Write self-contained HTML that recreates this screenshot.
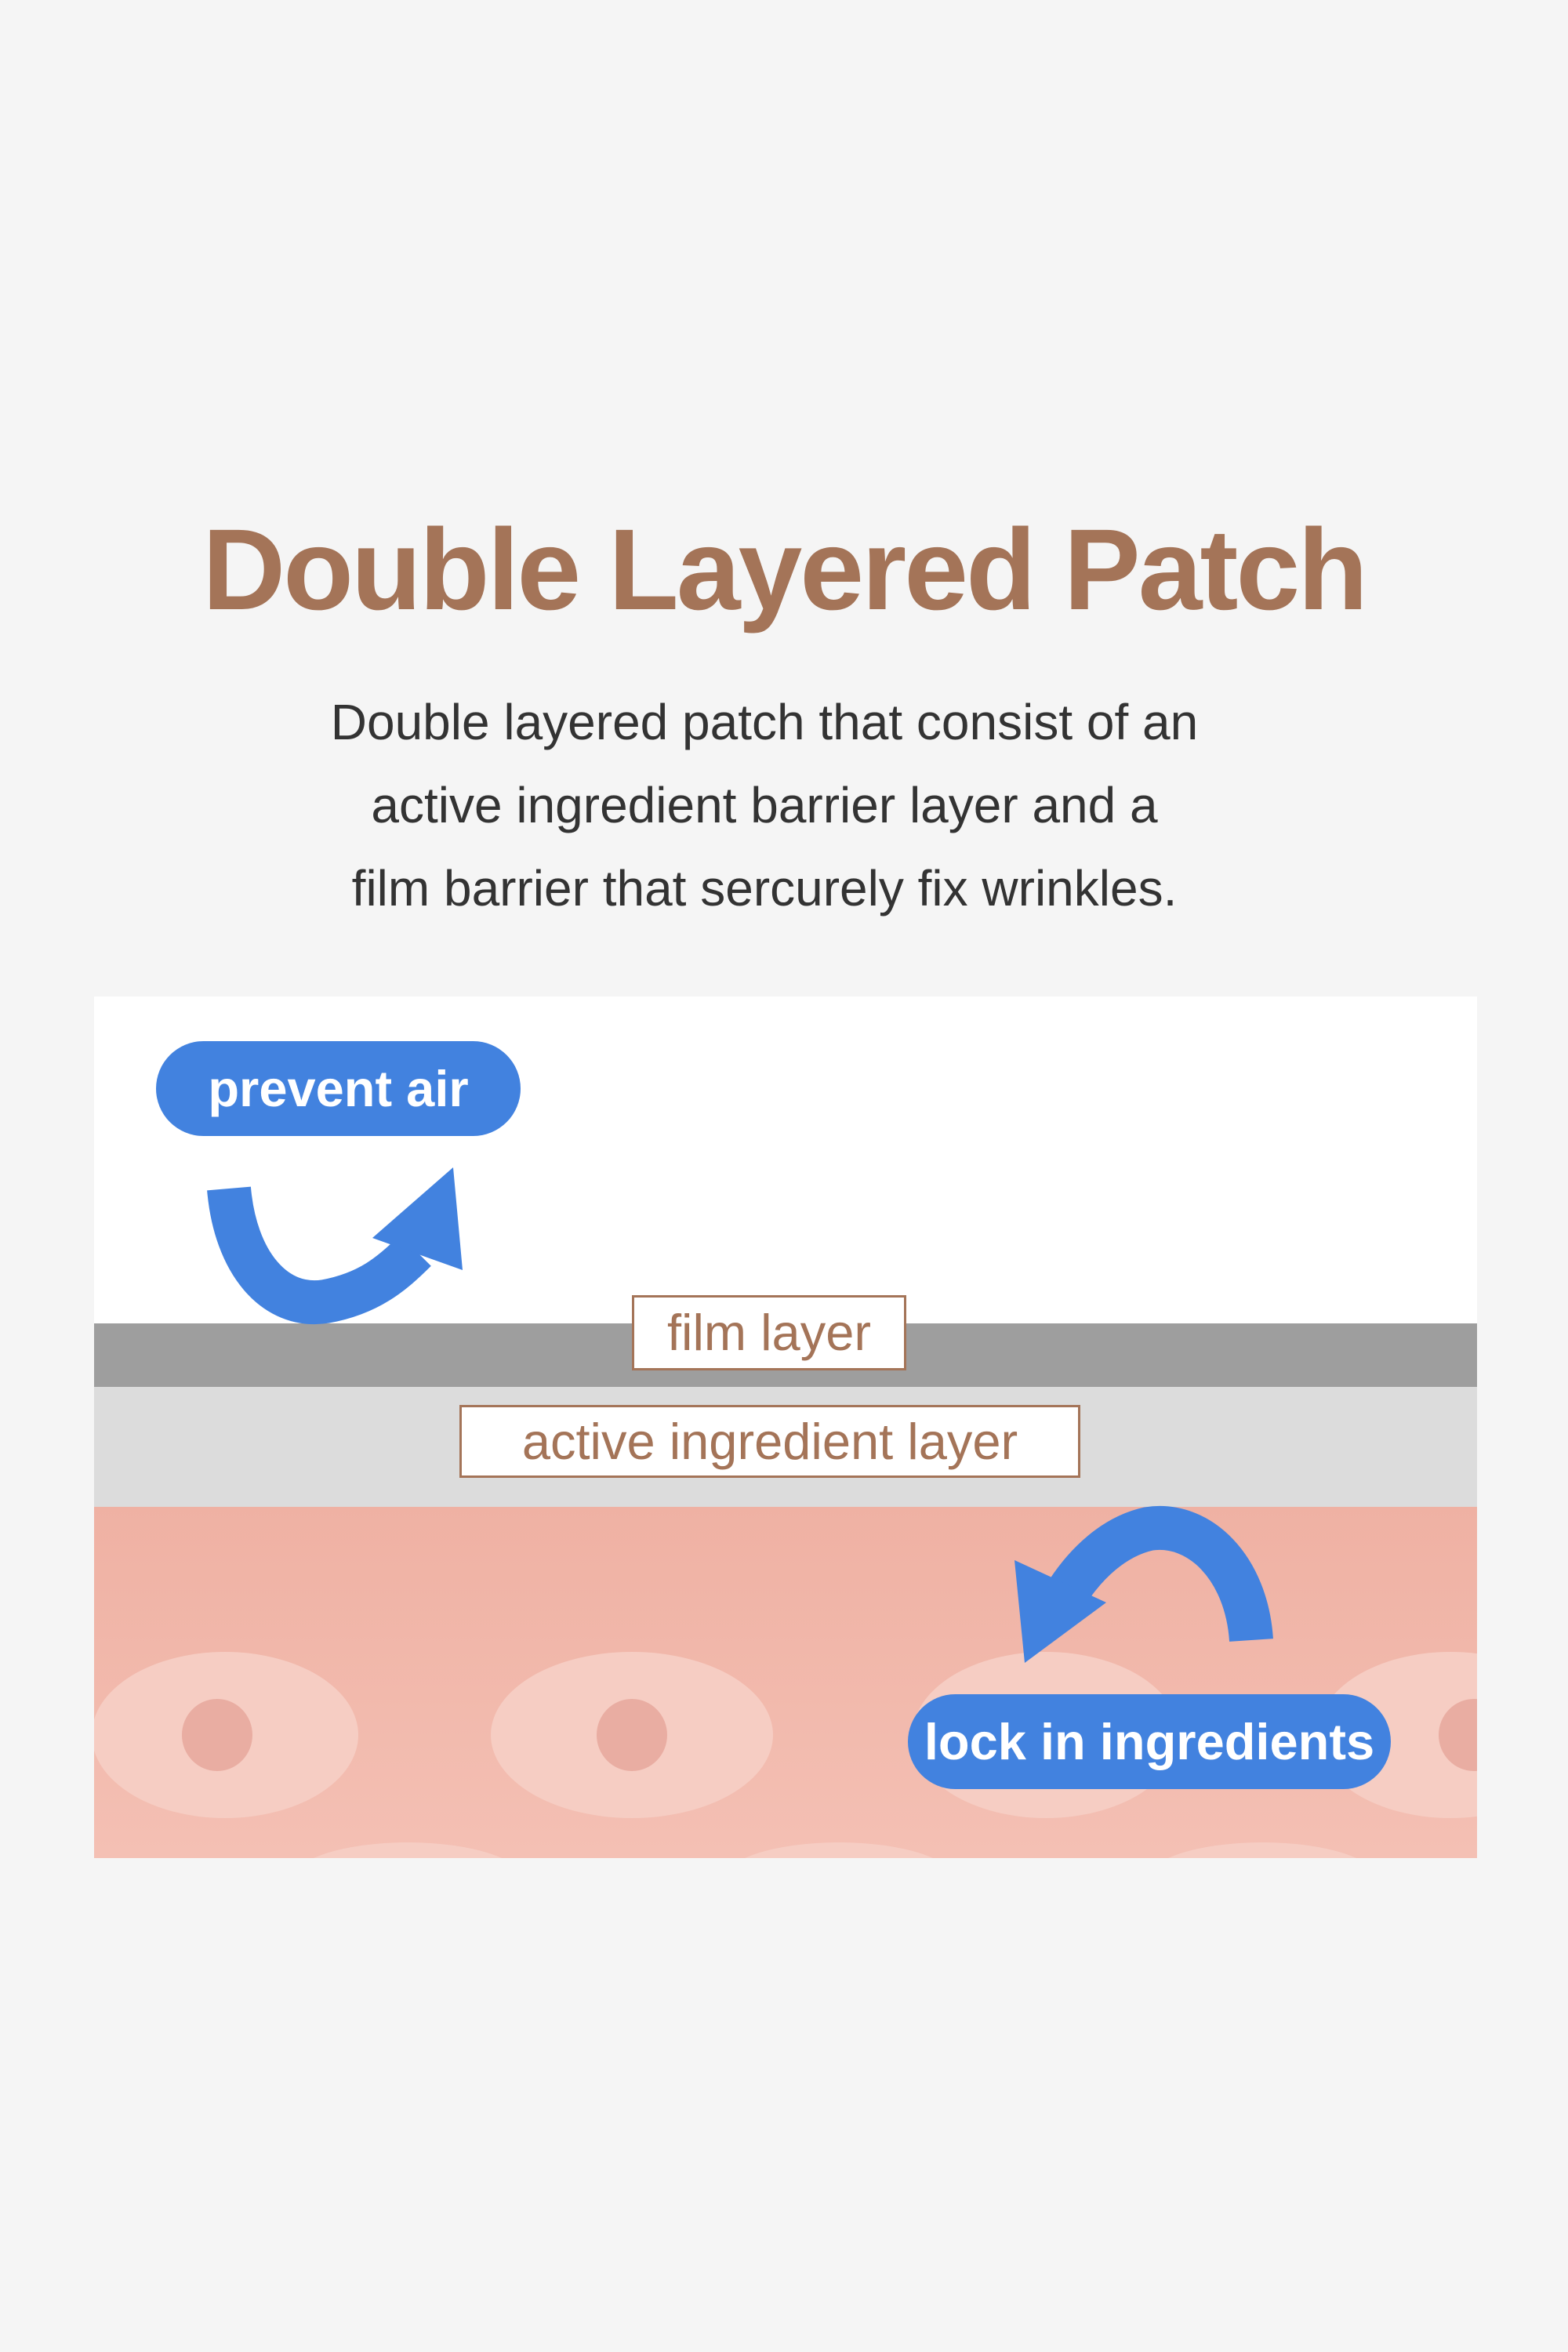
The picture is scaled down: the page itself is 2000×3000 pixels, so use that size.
<!DOCTYPE html>
<html><head><meta charset="utf-8"><style>
html,body{margin:0;padding:0}
body{width:2000px;height:3000px;background:#f5f5f5;position:relative;overflow:hidden;font-family:"Liberation Sans",sans-serif}
.abs{position:absolute}
h1{position:absolute;left:0;width:2000px;top:637px;margin:0;text-align:center;font-size:147px;font-weight:bold;color:#a47458;letter-spacing:-3px;line-height:180px}
.sub{position:absolute;left:-25px;width:2000px;text-align:center;font-size:64px;color:#333;line-height:106px;top:868px}
.pill{position:absolute;background:#4282df;color:#fff;font-weight:bold;border-radius:62px;text-align:center;font-size:65px}
.box{position:absolute;background:#fff;border:3px solid #a47458;box-sizing:border-box;color:#a47458;text-align:center;font-size:65px}
</style></head><body>
<h1>Double Layered Patch</h1>
<div class="sub">Double layered patch that consist of an<br>active ingredient barrier layer and a<br>film barrier that sercurely fix wrinkles.</div>
<svg class="abs" style="left:0;top:0" width="2000" height="3000">
<defs><linearGradient id="sk" x1="0" y1="0" x2="0" y2="1"><stop offset="0" stop-color="#efb1a3"/><stop offset="1" stop-color="#f4c0b4"/></linearGradient>
<clipPath id="cp"><rect x="120" y="1922" width="1764" height="448"/></clipPath></defs>
<rect x="120" y="1271" width="1764" height="417" fill="#fff"/>
<rect x="120" y="1688" width="1764" height="81" fill="#9e9e9e"/>
<rect x="120" y="1769" width="1764" height="153" fill="#dcdcdc"/>
<rect x="120" y="1922" width="1764" height="448" fill="url(#sk)"/>
<g clip-path="url(#cp)">
<g fill="#f6cdc3">
<ellipse cx="287" cy="2213" rx="170" ry="106"/><ellipse cx="806" cy="2213" rx="180" ry="106"/>
<ellipse cx="1334" cy="2213" rx="170" ry="106"/><ellipse cx="1850" cy="2213" rx="170" ry="106"/>
<ellipse cx="520" cy="2400" rx="150" ry="50"/><ellipse cx="1070" cy="2400" rx="150" ry="50"/><ellipse cx="1610" cy="2400" rx="150" ry="50"/>
</g>
<g fill="#e9ada2"><ellipse cx="277" cy="2213" rx="45" ry="46"/><ellipse cx="806" cy="2213" rx="45" ry="46"/><ellipse cx="1880" cy="2213" rx="45" ry="46"/></g>
</g>
<path d="M292,1516 C300,1610 350,1670 415,1660 C470,1650 500,1625 530,1595" fill="none" stroke="#4282df" stroke-width="56"/>
<polygon points="578,1489 590,1620 475,1579" fill="#4282df"/>
<path d="M1596,2092 C1590,2000 1530,1940 1465,1950 C1420,1960 1385,1995 1362,2030" fill="none" stroke="#4282df" stroke-width="56"/>
<polygon points="1307,2121 1294,1990 1411,2044" fill="#4282df"/>
</svg>
<div class="pill" style="left:199px;top:1328px;width:465px;height:121px;line-height:121px">prevent air</div>
<div class="pill" style="left:1158px;top:2161px;width:616px;height:121px;line-height:121px">lock in ingredients</div>
<div class="box" style="left:806px;top:1652px;width:350px;height:96px;line-height:90px">film layer</div>
<div class="box" style="left:586px;top:1792px;width:792px;height:93px;line-height:87px">active ingredient layer</div>
</body></html>
